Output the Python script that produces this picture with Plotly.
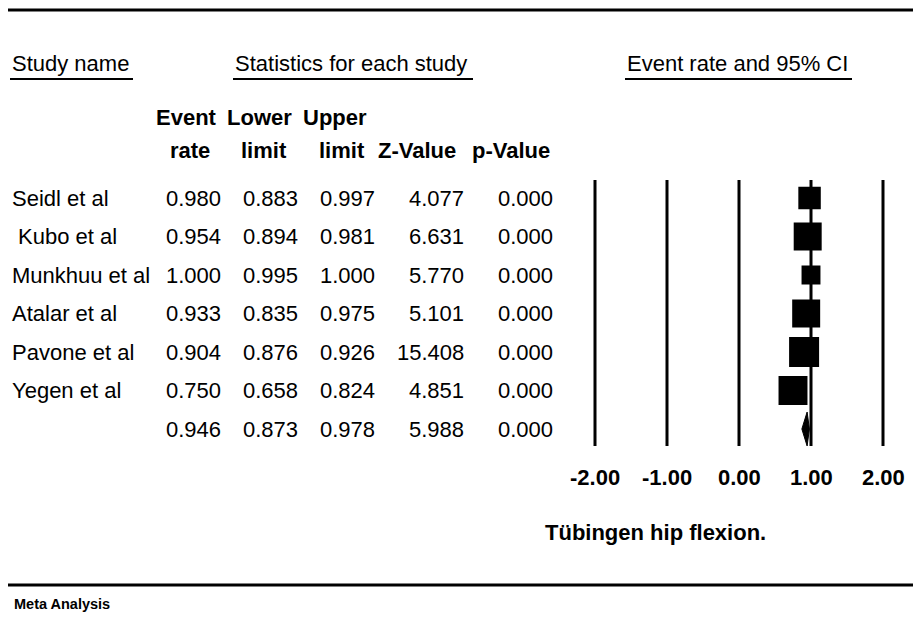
import plotly.graph_objects as go

# ---------------- data ----------------
studies = ["Seidl et al", " Kubo et al", "Munkhuu et al", "Atalar et al", "Pavone et al", "Yegen et al"]
event_rate = [0.980, 0.954, 1.000, 0.933, 0.904, 0.750]
lower_limit = [0.883, 0.894, 0.995, 0.835, 0.876, 0.658]
upper_limit = [0.997, 0.981, 1.000, 0.975, 0.926, 0.824]
z_value = [4.077, 6.631, 5.770, 5.101, 15.408, 4.851]
p_value = [0.000, 0.000, 0.000, 0.000, 0.000, 0.000]
weights = [12.1, 18.8, 8.6, 18.8, 21.6, 20.1]  # relative weights (%)

summary_rate = 0.946
summary_lower = 0.873
summary_upper = 0.978
summary_z = 5.988
summary_p = 0.000

axis_ticks = [-2, -1, 0, 1, 2]
axis_tick_labels = ["-2.00", "-1.00", "0.00", "1.00", "2.00"]

# ---------------- layout helpers ----------------
W, H = 913, 617
FONT = "Arial, 'Liberation Sans', sans-serif"
FS = 22
ROW0_PX, ROW_STEP = 198, 38.5
PX_PER_UNIT, ZERO_PX = 72, 739


def px(x):
    return x / W


def py(y):
    return 1 - y / H


fig = go.Figure()

n = len(studies)
rows = list(range(n))
summary_row = n

# reference lines at tick positions
for t in axis_ticks:
    fig.add_shape(type="line", xref="x", yref="y", x0=t, x1=t, y0=-0.47, y1=6.44,
                  line=dict(color="black", width=3), layer="below")

# confidence interval lines
ci_x, ci_y = [], []
for r, lo, hi in zip(rows, lower_limit, upper_limit):
    ci_x += [lo, hi, None]
    ci_y += [r, r, None]
fig.add_trace(go.Scatter(x=ci_x, y=ci_y, mode="lines", line=dict(color="black", width=2),
                         hoverinfo="skip", showlegend=False))

# weighted squares
k = 30 / (max(weights) ** 0.5)
fig.add_trace(go.Scatter(x=event_rate, y=rows, mode="markers",
                         marker=dict(symbol="square", color="black", opacity=1,
                                     size=[k * w ** 0.5 for w in weights],
                                     line=dict(width=0)),
                         showlegend=False))

# summary diamond
h = 0.44
fig.add_trace(go.Scatter(
    x=[summary_lower, summary_rate, summary_upper, summary_rate, summary_lower],
    y=[summary_row, summary_row - h, summary_row, summary_row + h, summary_row],
    mode="lines", fill="toself", fillcolor="black", line=dict(color="black", width=1),
    showlegend=False, hoverinfo="skip"))

ann = []


def txt(text, x, y, xanchor="left", yref="paper", bold=False, size=FS):
    ann.append(dict(text=f"<b>{text}</b>" if bold else text, x=x, y=y, xref="paper", yref=yref,
                    xanchor=xanchor, yanchor="middle", showarrow=False,
                    font=dict(family=FONT, size=size, color="black")))


# top headings
txt("Study name", px(10), py(64))
txt("Statistics for each study", px(233), py(64))
txt("Event rate and 95% CI", px(625), py(64))
for x0, x1 in [(10, 133), (233, 473), (625, 852)]:
    fig.add_shape(type="line", xref="paper", yref="paper", x0=px(x0), x1=px(x1),
                  y0=py(79), y1=py(79), line=dict(color="black", width=2))

# column headers
txt("Event", px(186), py(117), "center", bold=True)
txt("Lower", px(259), py(117), "center", bold=True)
txt("Upper", px(335), py(117), "center", bold=True)
txt("rate", px(190), py(150), "center", bold=True)
txt("limit", px(264), py(150), "center", bold=True)
txt("limit", px(342), py(150), "center", bold=True)
txt("Z-Value", px(458), py(150), "right", bold=True)
txt("p-Value", px(552), py(150), "right", bold=True)

col_right = [223, 300, 377, 466, 555]
for r, name in enumerate(studies):
    label = name.replace(" ", "\u00a0", 1) if name.startswith(" ") else name
    txt(label, px(10), r, "left", yref="y")
    vals = [event_rate[r], lower_limit[r], upper_limit[r], z_value[r], p_value[r]]
    for v, xr in zip(vals, col_right):
        txt(f"{v:.3f}", px(xr), r, "right", yref="y")
for v, xr in zip([summary_rate, summary_lower, summary_upper, summary_z, summary_p], col_right):
    txt(f"{v:.3f}", px(xr), summary_row, "right", yref="y")

# axis tick labels
for t, lab in zip(axis_ticks, axis_tick_labels):
    ann.append(dict(text=f"<b>{lab}</b>", x=t, y=py(477), xref="x", yref="paper",
                    xanchor="center", yanchor="middle", showarrow=False,
                    font=dict(family=FONT, size=FS, color="black")))

txt("Tübingen hip flexion.", px(543), py(532), "left", bold=True)

# frame lines
fig.add_shape(type="line", xref="paper", yref="paper", x0=px(8), x1=1, y0=py(10), y1=py(10),
              line=dict(color="black", width=3))
fig.add_shape(type="line", xref="paper", yref="paper", x0=px(8), x1=1, y0=py(585), y1=py(585),
              line=dict(color="black", width=3))
txt("Meta Analysis", px(12), py(604), "left", bold=True, size=14.5)

fig.update_layout(
    width=W, height=H, margin=dict(l=0, r=0, t=0, b=0),
    paper_bgcolor="white", plot_bgcolor="white", showlegend=False,
    annotations=ann,
    xaxis=dict(range=[-2.2, 2.2], domain=[(ZERO_PX - 2.2 * PX_PER_UNIT) / W, (ZERO_PX + 2.2 * PX_PER_UNIT) / W],
               visible=False, fixedrange=True),
    yaxis=dict(range=[(H - ROW0_PX) / ROW_STEP, -ROW0_PX / ROW_STEP], domain=[0, 1],
               visible=False, fixedrange=True),
)

fig.write_html("out.html", config={"displayModeBar": False},
               post_script="document.body.style.margin='0';document.body.style.overflow='hidden';")
